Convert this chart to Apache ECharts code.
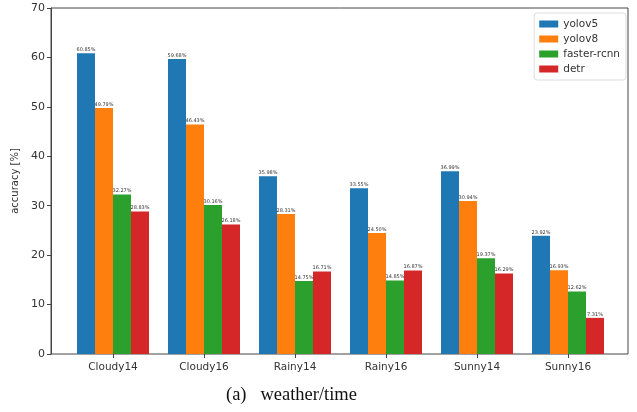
<!DOCTYPE html>
<html style="height: 100%; width: 100%; overflow: hidden">
<head>
    <meta charset="UTF-8">
    <title>weather/time</title>
    <script type="text/javascript" src="https://cdn.jsdelivr.net/npm/echarts@6/dist/echarts.min.js"></script>
</head>
<body style="height: 100%; width: 100%; margin: 0">
<div id="container" style="height: 412px; width: 637px"></div>
<script type="text/javascript">

    var categories = ['Cloudy14', 'Cloudy16', 'Rainy14', 'Rainy16', 'Sunny14', 'Sunny16'];
    var seriesNames = ['yolov5', 'yolov8', 'faster-rcnn', 'detr'];
    var yolov5 = [60.85, 59.68, 35.98, 33.55, 36.99, 23.92];
    var yolov8 = [49.79, 46.43, 28.31, 24.50, 30.94, 16.93];
    var fasterRcnn = [32.27, 30.16, 14.75, 14.85, 19.37, 12.62];
    var detr = [28.83, 26.18, 16.71, 16.87, 16.29, 7.31];
    var colors = ['#1f77b4', '#ff7f0e', '#2ca02c', '#d62728'];

    var dom = document.getElementById("container");
    var myChart = echarts.init(dom);

    function makeSeries(name, data) {
        return {
            name: name,
            type: 'bar',
            xAxisIndex: 1,
            yAxisIndex: 1,
            barWidth: 18,
            barGap: '0%',
            data: data,
            label: {
                show: true,
                position: 'top',
                distance: 1,
                fontSize: 5,
                color: '#333',
                formatter: function (p) { return p.value.toFixed(2) + '%'; }
            }
        };
    }

    var option = {
        animation: false,
        color: colors,
        textStyle: {fontFamily: 'DejaVu Sans'},
        title: {
            text: '(a)   weather/time',
            left: 221,
            bottom: 2,
            textStyle: {
                fontFamily: 'Liberation Serif',
                fontWeight: 'normal',
                fontSize: 18.5,
                color: '#111'
            }
        },
        legend: {
            orient: 'vertical',
            right: 11,
            top: 13,
            data: seriesNames,
            icon: 'rect',
            itemWidth: 19,
            itemHeight: 7,
            itemGap: 3,
            padding: [5, 6, 5, 5],
            borderColor: '#ddd',
            borderWidth: 1,
            borderRadius: 3,
            textStyle: {fontSize: 10.5, color: '#333', lineHeight: 12}
        },
        grid: [
            {left: 51, right: 9, top: 8, bottom: 58, show: true, borderColor: '#444', borderWidth: 1},
            {left: 67.5, right: 23.5, top: 8, bottom: 58}
        ],
        xAxis: [
            {gridIndex: 0, type: 'value', show: false, min: 0, max: 1},
            {
                gridIndex: 1,
                type: 'category',
                data: categories,
                axisLine: {show: false},
                axisTick: {show: true, alignWithLabel: true, length: 4, lineStyle: {color: '#444'}},
                axisLabel: {fontSize: 10.5, color: '#333', margin: 8}
            }
        ],
        yAxis: [
            {
                gridIndex: 0,
                type: 'value',
                min: 0,
                max: 70,
                interval: 10,
                name: 'accuracy [%]',
                nameLocation: 'middle',
                nameGap: 23,
                nameTextStyle: {fontSize: 10, color: '#333'},
                axisLine: {show: true, lineStyle: {color: '#444'}},
                axisTick: {show: true, length: 4, lineStyle: {color: '#444'}},
                axisLabel: {fontSize: 11, color: '#333', margin: 6},
                splitLine: {show: false}
            },
            {gridIndex: 1, type: 'value', min: 0, max: 70, show: false, splitLine: {show: false}}
        ],
        series: [
            makeSeries(seriesNames[0], yolov5),
            makeSeries(seriesNames[1], yolov8),
            makeSeries(seriesNames[2], fasterRcnn),
            makeSeries(seriesNames[3], detr)
        ]
    };

    myChart.setOption(option);

</script>
</body>
</html>
